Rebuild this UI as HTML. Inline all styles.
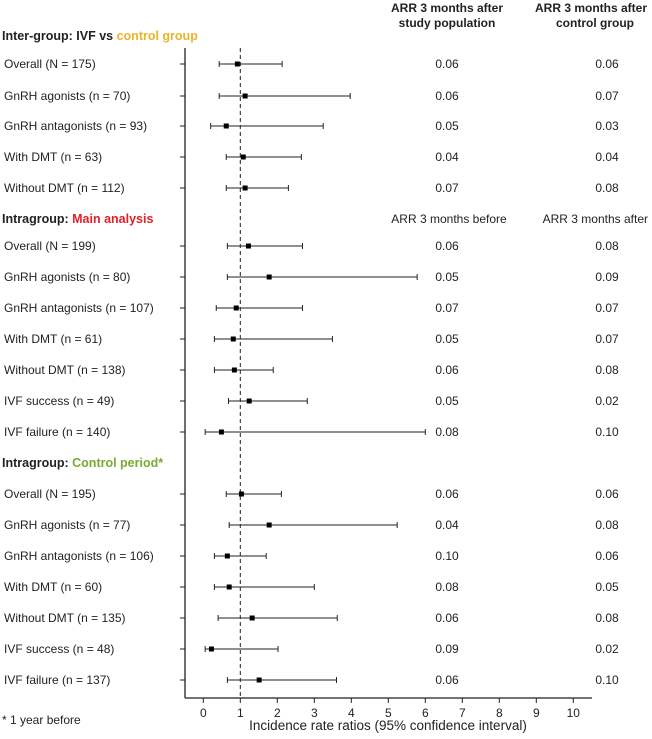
<!DOCTYPE html>
<html><head><meta charset="utf-8"><style>
body{margin:0;background:#fff;width:652px;height:734px;overflow:hidden}
svg text{font-family:"Liberation Sans",sans-serif;fill:#222}
</style></head><body>
<svg id="chart" width="652" height="734" xmlns="http://www.w3.org/2000/svg"></svg>
<script>
const labels=["Overall (N = 175)","GnRH agonists (n = 70)","GnRH antagonists (n = 93)","With DMT (n = 63)","Without DMT (n = 112)",
"Overall (N = 199)","GnRH agonists (n = 80)","GnRH antagonists (n = 107)","With DMT (n = 61)","Without DMT (n = 138)","IVF success (n = 49)","IVF failure (n = 140)",
"Overall (N = 195)","GnRH agonists (n = 77)","GnRH antagonists (n = 106)","With DMT (n = 60)","Without DMT (n = 135)","IVF success (n = 48)","IVF failure (n = 137)"];
const rowY=[64,96,126,157,188,246,277,308,339,370,401,432,494,525,556,587,618,649,680];
const est=[0.92,1.13,0.62,1.08,1.13,1.22,1.78,0.89,0.81,0.84,1.24,0.49,1.03,1.78,0.65,0.7,1.32,0.22,1.51];
const lo=[0.43,0.43,0.2,0.62,0.62,0.65,0.65,0.35,0.3,0.3,0.68,0.05,0.62,0.7,0.3,0.3,0.4,0.05,0.65];
const hi=[2.13,3.97,3.24,2.65,2.3,2.68,5.78,2.68,3.49,1.89,2.81,6.0,2.11,5.24,1.7,3.0,3.62,2.02,3.6];
const col1=["0.06","0.06","0.05","0.04","0.07","0.06","0.05","0.07","0.05","0.06","0.05","0.08","0.06","0.04","0.10","0.08","0.06","0.09","0.06"];
const col2=["0.06","0.07","0.03","0.04","0.08","0.08","0.09","0.07","0.07","0.08","0.02","0.10","0.06","0.08","0.06","0.05","0.08","0.02","0.10"];
const ticks=[0,1,2,3,4,5,6,7,8,9,10];
const svg=document.getElementById('chart');const NS='http://www.w3.org/2000/svg';
const xs=v=>203.3+v*37;
function el(t,a,txt){const e=document.createElementNS(NS,t);for(const k in a)e.setAttribute(k,a[k]);if(txt!==undefined)e.textContent=txt;svg.appendChild(e);return e;}
let e;
e=el('line',{x1:185,y1:48,x2:185,y2:698,stroke:'#222','stroke-width':1.3});


e=el('line',{x1:185,y1:698,x2:592,y2:698,stroke:'#222','stroke-width':1.3});


e=el('line',{x1:xs(1),y1:48,x2:xs(1),y2:698,stroke:'#222','stroke-width':1,'stroke-dasharray':'4,3'});


ticks.forEach(t=>{
 e=el('line',{x1:xs(t),y1:698,x2:xs(t),y2:703,stroke:'#222'});
 
 
 e=el('text',{x:xs(t),y:717,'font-size':12,'text-anchor':'middle'},String(t));
 
 
});
e=el('text',{x:388,y:730,'font-size':13.5,'text-anchor':'middle'},'Incidence rate ratios (95% confidence interval)');


labels.forEach((l,i)=>{
 const y=rowY[i];
 e=el('text',{x:4,y:y+4,'font-size':12},l);
 
 
 e=el('line',{x1:180,y1:y,x2:185,y2:y,stroke:'#222'});
 
 
 e=el('line',{x1:xs(lo[i]),y1:y,x2:xs(hi[i]),y2:y,stroke:'#222','stroke-width':1});
 
 
 [lo[i],hi[i]].forEach(v=>{
  e=el('line',{x1:xs(v),y1:y-3,x2:xs(v),y2:y+3,stroke:'#222'});
  
  
 });
 e=el('rect',{x:xs(est[i])-2.5,y:y-2.5,width:5,height:5,fill:'#000'});
 
 
 e=el('text',{x:447,y:y+4,'font-size':12,'text-anchor':'middle'},col1[i]);
 
 
 e=el('text',{x:607,y:y+4,'font-size':12,'text-anchor':'middle'},col2[i]);
 
 
});
function head(y,a,b,c){const t=el('text',{x:2,y:y,'font-size':12.5,'font-weight':'bold'});
 const s1=document.createElementNS(NS,'tspan');s1.textContent=a;t.appendChild(s1);
 const s2=document.createElementNS(NS,'tspan');s2.textContent=b;s2.setAttribute('fill',c);t.appendChild(s2);return t;}
e=head(40,'Inter-group: IVF vs ','control group','#e8b428');


e=head(223,'Intragroup: ','Main analysis','#e0202a');


e=head(467,'Intragroup: ','Control period*','#7aaa30');


[['ARR 3 months after',447,12,'middle'],['study population',447,27,'middle'],['ARR 3 months after',647,12,'end'],['control group',634,27,'end']].forEach(h=>{
 e=el('text',{x:h[1],y:h[2],'font-size':12,'font-weight':'bold','text-anchor':h[3]},h[0]);
 
 
});
e=el('text',{x:449,y:223,'font-size':12,'text-anchor':'middle'},'ARR 3 months before');


e=el('text',{x:648,y:223,'font-size':12,'text-anchor':'end'},'ARR 3 months after');


e=el('text',{x:2,y:724,'font-size':12},'* 1 year before');


</script>
</body></html>
